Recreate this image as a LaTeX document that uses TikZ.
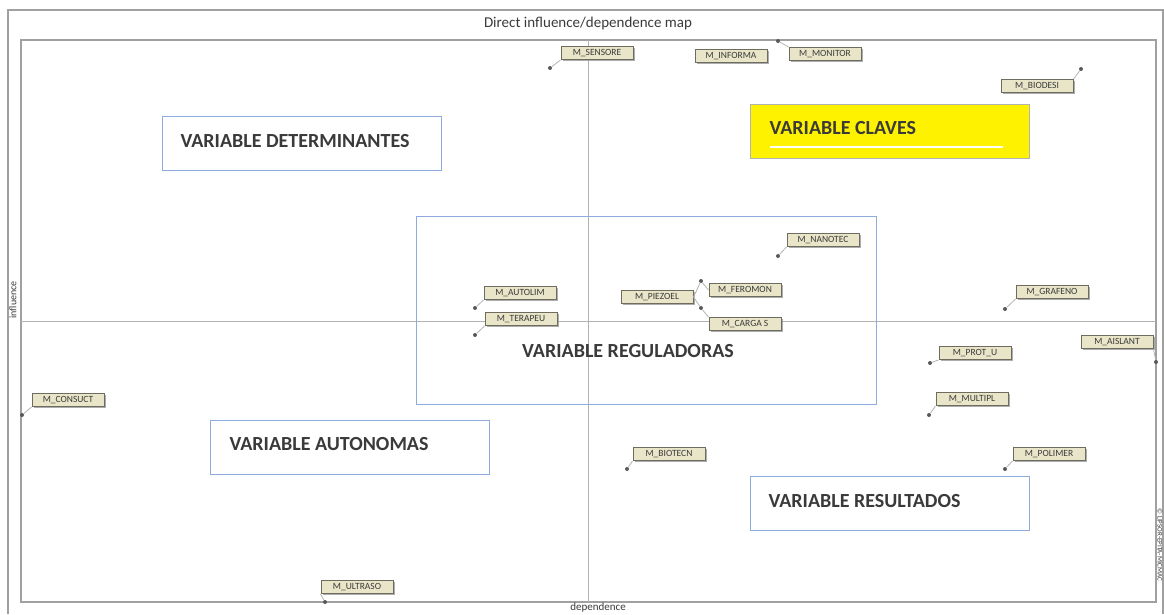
\documentclass[tikz,border=0pt]{standalone}
\usepackage{fontspec}
\setmainfont{Carlito}
\setsansfont{Carlito}
\usetikzlibrary{shadows}
\definecolor{labfill}{HTML}{E8E5C8}
\definecolor{labdraw}{HTML}{6E6C5E}
\definecolor{boxblue}{HTML}{8FAADC}
\definecolor{axisgray}{HTML}{A0A0A0}
\definecolor{txt}{HTML}{3A3A3A}
\tikzset{
  lab/.style={draw=labdraw, line width=1pt, fill=labfill, inner sep=1.2pt,
    font=\fontsize{9.5}{9.5}\selectfont\sffamily, text=txt, minimum height=13pt, minimum width=72pt,
    drop shadow={shadow xshift=1.8pt, shadow yshift=-1.8pt, fill=gray!80, opacity=0.8}},
  pin/.style={circle, fill=gray!70!black, inner sep=0pt, minimum size=4pt},
  con/.style={draw=gray!60, line width=0.8pt},
  qbox/.style={draw=boxblue, line width=0.9pt, fill=white, minimum width=279pt, minimum height=54pt},
  qtxt/.style={font=\fontsize{20}{20}\selectfont\bfseries, text=txt},
  frame/.style={draw=axisgray, line width=1.2pt},
  axis/.style={draw=gray!60, line width=0.6pt},
}
\begin{document}
\begin{tikzpicture}[x=1pt,y=-1pt]
\useasboundingbox (0,0) rectangle (1164,614);
% frames
\draw[frame] (8,614) -- (8,10) -- (1163,10) -- (1163,614);
\draw[frame] (21,40) rectangle (1156,602);
\node[font=\fontsize{15}{15}\selectfont\sffamily, text=txt] (title) at (588,23) {Direct influence/dependence map};
\node[font=\fontsize{10}{10}\selectfont\sffamily, text=txt, rotate=90] (infl) at (13,300) {influence};
\node[font=\fontsize{11}{11}\selectfont\sffamily, text=txt] (dep) at (598,608) {dependence};
\node[font=\fontsize{7}{7}\selectfont\sffamily, text=txt, rotate=-90] (copy) at (1160,545) {© LIPSOR-EPITA-MICMAC};
% axes
\coordinate (vt) at (588,40); \coordinate (vb) at (588,602);
\coordinate (hl) at (21,321); \coordinate (hr) at (1156,321);
\draw[axis] (vt) -- (vb);
\draw[axis] (hl) -- (hr);
% quadrant boxes
\node[qbox, minimum width=460pt, minimum height=188pt, fill=none] (reg) at (646,310) {};
\node[qtxt] (regt) at (628,351) {VARIABLE REGULADORAS};
\node[qbox] (det) at (301.5,143) {};
\node[qtxt, anchor=west] (dett) at (177,141) {VARIABLE DETERMINANTES};
\node[qbox, fill=yellow, draw=gray!60] (cla) at (890,131) {};
\node[qtxt, anchor=west] (clat) at (766,128) {VARIABLE CLAVES};
\coordinate (wl1) at (770,147); \coordinate (wl2) at (1003,147);
\draw[white, line width=1.2pt] (wl1) -- (wl2);
\node[qbox] (aut) at (349.5,447) {};
\node[qtxt, anchor=west] (autt) at (226,444) {VARIABLE AUTONOMAS};
\node[qbox] (res) at (889.5,503) {};
\node[qtxt, anchor=west] (rest) at (765,501) {VARIABLE RESULTADOS};
% variables
\node[lab] (l1) at (597,53) {M\_SENSORE};
\node[pin] (p1) at (550,68) {};
\draw[con] (p1) -- (l1.south west);
\node[lab] (l2) at (731,56) {M\_INFORMA};
\node[lab] (l3) at (825,54) {M\_MONITOR};
\node[pin] (p3) at (778,41) {};
\draw[con] (p3) -- (l3.north west);
\node[lab] (l4) at (1037,86) {M\_BIODESI};
\node[pin] (p4) at (1081,69) {};
\draw[con] (p4) -- (l4.north east);
\node[lab] (l5) at (823,240) {M\_NANOTEC};
\node[pin] (p5) at (778,256) {};
\draw[con] (p5) -- (l5.south west);
\node[lab] (l6) at (520,293) {M\_AUTOLIM};
\node[pin] (p6) at (475,308) {};
\draw[con] (p6) -- (l6.south west);
\node[lab] (l7) at (521,319) {M\_TERAPEU};
\node[pin] (p7) at (475,335) {};
\draw[con] (p7) -- (l7.south west);
\node[lab] (l8) at (657,297) {M\_PIEZOEL};
\node[pin] (p8) at (701,281) {};
\draw[con] (p8) -- (l8.east);
\node[lab] (l9) at (745,290) {M\_FEROMON};
\draw[con] (p8) -- (l9.west);
\node[pin] (p10) at (701,308) {};
\node[lab] (l10) at (745,324) {M\_CARGA S};
\draw[con] (p10) -- (l10.north west);
\draw[con] (p10) -- (l8.east);
\node[lab] (l11) at (1052,292) {M\_GRAFENO};
\node[pin] (p11) at (1005,309) {};
\draw[con] (p11) -- (l11.south west);
\node[lab] (l12) at (975,353) {M\_PROT\_U};
\node[pin] (p12) at (930,363) {};
\draw[con] (p12) -- (l12.south west);
\node[lab] (l13) at (1117,342) {M\_AISLANT};
\node[pin] (p13) at (1156,362) {};
\draw[con] (p13) -- (l13.south east);
\node[lab] (l14) at (972,399) {M\_MULTIPL};
\node[pin] (p14) at (929,415) {};
\draw[con] (p14) -- (l14.south west);
\node[lab] (l15) at (68,400) {M\_CONSUCT};
\node[pin] (p15) at (22,415) {};
\draw[con] (p15) -- (l15.south west);
\node[lab] (l16) at (669,454) {M\_BIOTECN};
\node[pin] (p16) at (627,469) {};
\draw[con] (p16) -- (l16.south west);
\node[lab] (l17) at (1049,454) {M\_POLIMER};
\node[pin] (p17) at (1005,469) {};
\draw[con] (p17) -- (l17.south west);
\node[lab] (l18) at (357,587) {M\_ULTRASO};
\node[pin] (p18) at (325,602) {};
\draw[con] (p18) -- (l18.south west);
\end{tikzpicture}
\end{document}
